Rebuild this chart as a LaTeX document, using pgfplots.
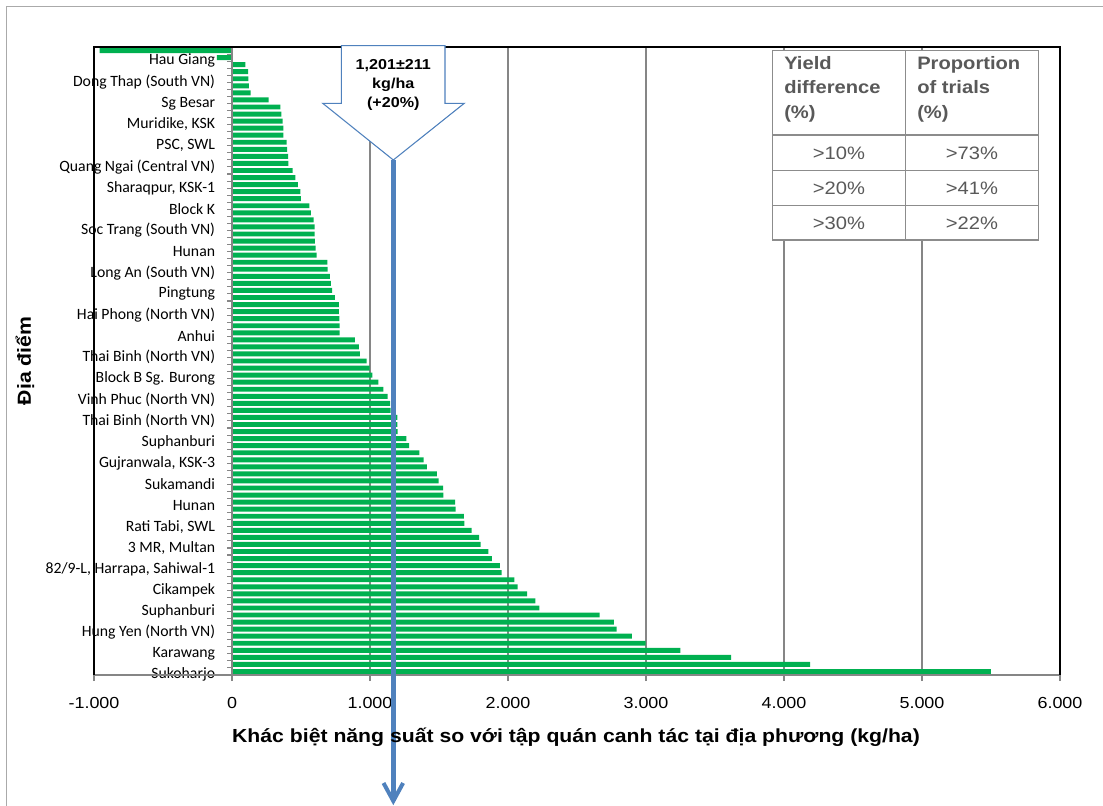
\documentclass[border=0pt]{standalone}
\usepackage{fontspec}
\setmainfont{Liberation Sans}[FakeStretch=1.12]
\newfontfamily\calibri{Carlito}
\usepackage{pgfplots}
\pgfplotsset{compat=1.18}
\definecolor{barg}{HTML}{00B050}
\definecolor{gridg}{HTML}{868686}
\definecolor{arrowb}{HTML}{4F81BD}
\definecolor{tabtxt}{HTML}{595959}
\definecolor{tabln}{HTML}{8C8C8C}

\begin{document}
\begin{tikzpicture}
% page = 1103 x 806 px, 1 px = 0.75pt, plot frame lower left at px (94,675)
\path[use as bounding box] (-70.5pt,-98.25pt) rectangle (756.75pt,506.25pt);
\begin{axis}[
    at={(0,0)}, anchor=south west,
    scale only axis, width=724.5pt, height=471pt,
    xbar, bar width=0.7,
    xmin=-1000, xmax=6000, ymin=0.5, ymax=89.5, y dir=reverse,
    axis line style={draw=none},
    xtick={-1000,0,...,6000},
    scaled x ticks=false,
    /pgf/number format/1000 sep={.},
    /pgf/number format/assume math mode=true,
    xtick pos=left, tick align=outside, major tick length=4.5pt,
    xtick style={gridg, line width=1pt},
    xticklabel style={font=\fontsize{12}{14}\selectfont, yshift=-9pt},
    xmajorgrids, grid style={gridg, line width=1.1pt},
    ytick={2,5,...,89},
    yticklabels={{Hau Giang},{Dong Thap (South VN)},{Sg Besar },{Muridike, KSK},{PSC, SWL},
      {Quang Ngai (Central VN)},{Sharaqpur, KSK-1},{Block K},{Soc Trang (South VN)},{Hunan},
      {Long An (South VN)},{Pingtung},{Hai Phong (North VN)},{Anhui},{Thai Binh (North VN)},
      {Block B Sg. Burong},{Vinh Phuc (North VN)},{Thai Binh (North VN)},{Suphanburi},{Gujranwala, KSK-3},
      {Sukamandi },{Hunan},{Rati Tabi, SWL},{3 MR, Multan},{82/9-L, Harrapa, Sahiwal-1},
      {Cikampek},{Suphanburi},{Hung Yen (North VN)},{Karawang},{Sukoharjo}},
    ytick style={draw=none},
    yticklabel style={font=\calibri\fontsize{11.8}{13}\selectfont, anchor=east, inner xsep=0pt,
      xshift=95.5pt, yshift=-2.5pt},
]
\addplot[fill=barg, draw=none] table[x=v, y=i] {
i v
1 -960
2 -110
3 97
4 116
5 118
6 123
7 135
8 266
9 350
10 357
11 367
12 372
13 372
14 396
15 399
16 406
17 408
18 440
19 459
20 478
21 495
22 500
23 560
24 572
25 592
26 599
27 599
28 601
29 606
30 614
31 691
32 693
33 710
34 717
35 725
36 746
37 775
38 775
39 778
40 780
41 780
42 891
43 920
44 927
45 976
46 997
47 1017
48 1060
49 1097
50 1128
51 1145
52 1150
53 1198
54 1198
55 1201
56 1263
57 1283
58 1357
59 1389
60 1413
61 1485
62 1498
63 1529
64 1531
65 1616
66 1621
67 1681
68 1683
69 1737
70 1790
71 1802
72 1857
73 1884
74 1942
75 1954
76 2046
77 2070
78 2138
79 2198
80 2227
81 2664
82 2768
83 2787
84 2898
85 2997
86 3249
87 3616
88 4190
89 5500
};
\end{axis}
\begin{scope}[x=0.75pt, y=-0.75pt, shift={(-70.5pt,506.25pt)}]
  % vertical axis at zero with category ticks
  \draw[gridg, line width=1.1pt] (232,47) -- (232,675);
  \foreach \k in {0,...,89} \draw[gridg, line width=0.8pt] (232,47+\k*7.056) -- (227,47+\k*7.056);
  % bottom axis line and frame
  \draw[gridg, line width=1.5pt] (94,675) -- (1060,675);
  \draw[black, line width=1.3pt] (94,675) -- (94,47) -- (1060,47) -- (1060,675);
  % table
  \filldraw[fill=white, draw=tabln, line width=0.8pt] (772.7,50.7) rectangle (1038.3,240);
  \draw[tabln, line width=0.8pt] (905.7,50.7) -- (905.7,240)
    (772.7,135) -- (1038.3,135) (772.7,170.7) -- (1038.3,170.7) (772.7,205.7) -- (1038.3,205.7);
  \node[anchor=north west, align=left, inner sep=0pt, text=tabtxt,
        font=\bfseries\fontsize{13.5}{18.5}\selectfont] at (784,56) {Yield\\difference\\(\%)};
  \node[anchor=north west, align=left, inner sep=0pt, text=tabtxt,
        font=\bfseries\fontsize{13.5}{18.5}\selectfont] at (917,56) {Proportion\\of trials\\(\%)};
  \begin{scope}[every node/.style={text=tabtxt, font=\fontsize{13.5}{16}\selectfont}]
    \node at (839,153) {>10\%};  \node at (972,153) {>73\%};
    \node at (839,188) {>20\%};  \node at (972,188) {>41\%};
    \node at (839,223) {>30\%};  \node at (972,223) {>22\%};
  \end{scope}
  % block arrow
  \filldraw[fill=white, draw=arrowb, line width=0.8pt] (341.3,45.7) -- (445,45.7) -- (445,103.3)
    -- (464.3,103.3) -- (393.3,160) -- (322.7,103.3) -- (341.3,103.3) -- cycle;
  \node[align=center, font=\bfseries\fontsize{10.8}{13.9}\selectfont] at (393.3,85)
    {1,201±211\\kg/ha\\(+20\%)};
  \draw[arrowb, line width=3.75pt] (393.3,160) -- (393.3,801);
  \draw[arrowb, line width=3pt, line join=miter] (383.5,783) -- (393.3,801) -- (403.1,783);
  % axis titles
  \node[font=\bfseries\fontsize{14.2}{16}\selectfont] at (576,737)
    {Khác biệt năng suất so với tập quán canh tác tại địa phương (kg/ha)};
  \node[rotate=90, font=\bfseries\fontsize{14.2}{16}\selectfont] at (25,361) {Địa điểm};
  % chart border
  \draw[gridg!70!white, line width=0.8pt] (6.5,830) -- (6.5,6.5) -- (1120,6.5);
\end{scope}
\end{tikzpicture}
\end{document}
